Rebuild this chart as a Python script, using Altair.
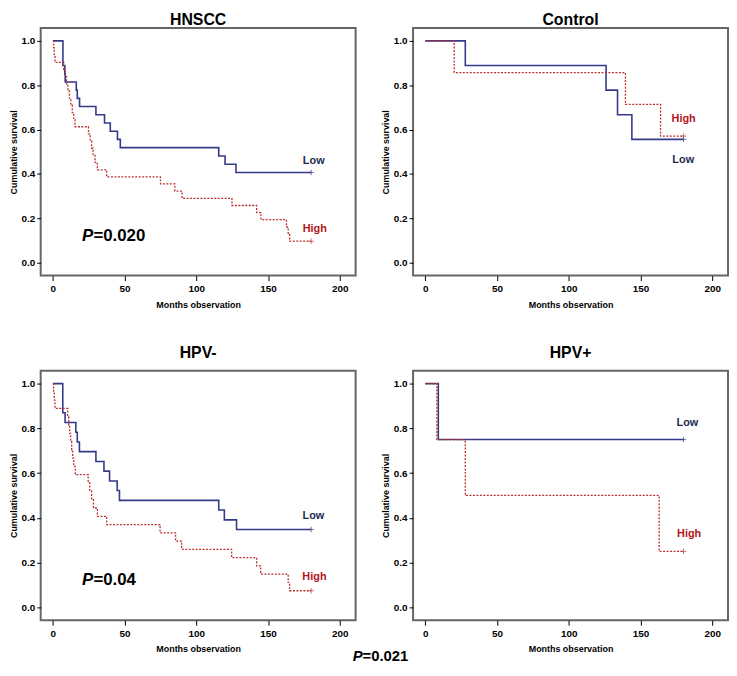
import altair as alt
import pandas as pd

# ---------------- data ----------------
hnscc_low_t = [0, 7, 8.3, 8.6, 16.3, 17, 18.6, 30, 36, 40, 45, 47, 115.6, 120, 127.6, 180]
hnscc_low_s = [1.0, 0.889, 0.852, 0.815, 0.778, 0.741, 0.704, 0.667, 0.630, 0.593, 0.556, 0.519,
               0.481, 0.444, 0.407, 0.407]
hnscc_high_t = [0, 0.5, 1, 1.5, 7.6, 8.5, 9.5, 10.5, 11.5, 12.5, 13.5, 14.5, 15.4, 24.8, 26, 27, 28,
                29.4, 31, 37.5, 75, 85, 90, 124.8, 142, 145, 162.8, 164, 165, 180]
hnscc_high_s = [1.0, 0.968, 0.935, 0.903, 0.871, 0.839, 0.806, 0.774, 0.742, 0.710, 0.677, 0.645,
                0.613, 0.581, 0.548, 0.516, 0.484, 0.452, 0.419, 0.387, 0.355, 0.323, 0.290, 0.258,
                0.226, 0.194, 0.161, 0.129, 0.097, 0.097]

control_low_t = [0, 27.9, 126, 134, 144, 180]
control_low_s = [1.0, 0.889, 0.778, 0.667, 0.556, 0.556]
control_high_t = [0, 20.2, 139.5, 164, 180]
control_high_s = [1.0, 0.857, 0.714, 0.571, 0.571]

hpvneg_low_t = [0, 6.9, 8.5, 16, 17, 18.5, 30, 35.6, 39.5, 44.8, 46.4, 115.6, 119.5, 128, 180]
hpvneg_low_s = [1.0, 0.870, 0.826, 0.783, 0.739, 0.696, 0.652, 0.609, 0.565, 0.522, 0.478, 0.435,
                0.391, 0.348, 0.348]
hpvneg_high_t = [0, 0.5, 1, 1.5, 10.3, 11, 11.7, 12.4, 13.1, 13.8, 14.5, 15.6, 24.6, 25.7, 27, 28.3,
                 31, 37.5, 74.7, 85.5, 89.7, 124.6, 142, 144.8, 164, 165, 180]
hpvneg_high_s = [1.0, 0.963, 0.926, 0.889, 0.852, 0.815, 0.778, 0.741, 0.704, 0.667, 0.630, 0.593,
                 0.556, 0.519, 0.481, 0.444, 0.407, 0.370, 0.333, 0.296, 0.259, 0.222, 0.185, 0.148,
                 0.111, 0.074, 0.074]

hpvpos_low_t = [0, 9.1, 180]
hpvpos_low_s = [1.0, 0.75, 0.75]
hpvpos_high_t = [0, 8.1, 27.9, 163, 180]
hpvpos_high_s = [1.0, 0.75, 0.5, 0.25, 0.25]

x_ticks = [0, 50, 100, 150, 200]
y_ticks = [0.0, 0.2, 0.4, 0.6, 0.8, 1.0]

BLUE = "#343a88"
RED = "#b8312f"
LOW_TXT = "#1c2a50"
HIGH_TXT = "#b3151b"
FONT = "Liberation Sans"


def panel(title, low_t, low_s, high_t, high_s, low_lab, high_lab, pval, width, height,
          title_offset, extra=None):
    low = pd.DataFrame({"t": low_t, "s": low_s})
    high = pd.DataFrame({"t": high_t, "s": high_s})
    x = alt.X("t:Q", scale=alt.Scale(domain=[-8.5, 211], nice=False, zero=False),
              axis=alt.Axis(values=x_ticks, title="Months observation", format="d"))
    y = alt.Y("s:Q", scale=alt.Scale(domain=[-0.058, 1.058], nice=False, zero=False),
              axis=alt.Axis(values=y_ticks, title="Cumulative survival", format=".1f"))

    blue = alt.Chart(low).mark_line(interpolate="step-after", color=BLUE,
                                    strokeWidth=1.6).encode(x=x, y=y)
    red = alt.Chart(high).mark_line(interpolate="step-after", color=RED, strokeWidth=1.3,
                                    strokeDash=[2, 1.5]).encode(x=x, y=y)
    plus = "M-1,0L1,0M0,-1L0,1"
    blue_c = alt.Chart(low.tail(1)).mark_point(shape=plus, size=30, filled=False, color=BLUE,
                                               strokeWidth=1).encode(x=x, y=y)
    red_c = alt.Chart(high.tail(1)).mark_point(shape=plus, size=30, filled=False, color=RED,
                                               strokeWidth=1).encode(x=x, y=y)

    lab_df = pd.DataFrame({"t": [low_lab[0], high_lab[0]], "s": [low_lab[1], high_lab[1]],
                           "txt": ["Low", "High"], "c": [LOW_TXT, HIGH_TXT]})
    labs = alt.Chart(lab_df).mark_text(font=FONT, fontWeight="bold", fontSize=11,
                                       baseline="alphabetic", align="center").encode(
        x=x, y=y, text="txt:N", color=alt.Color("c:N", scale=None))

    layers = [blue, red, blue_c, red_c, labs]
    if pval is not None:
        pdf = pd.DataFrame({"t": [20.3], "s": [0.10], "txt": ["P"], "rest": [pval]})
        p1 = alt.Chart(pdf).mark_text(font=FONT, fontWeight="bold", fontStyle="italic",
                                      fontSize=17, align="left", baseline="alphabetic",
                                      color="black").encode(x=x, y=y, text="txt:N")
        p2 = alt.Chart(pdf).mark_text(font=FONT, fontWeight="bold", fontSize=17, align="left",
                                      baseline="alphabetic", dx=11.5,
                                      color="black").encode(x=x, y=y, text="rest:N")
        layers += [p1, p2]
    if extra is not None:
        layers += extra
    return alt.layer(*layers).properties(
        width=width, height=height,
        title=alt.TitleParams(title, font=FONT, fontSize=16, fontWeight="bold",
                              color="black", offset=title_offset, anchor="middle"))


# overall p-value below the panels (placed in pixels relative to the lower-left panel)
overall = pd.DataFrame({"a": ["P"], "b": ["=0.021"]})
ov1 = alt.Chart(overall).mark_text(font=FONT, fontWeight="bold", fontStyle="italic", fontSize=15,
                                   align="left", baseline="alphabetic", color="black").encode(
    text="a:N", x=alt.value(315), y=alt.value(293))
ov2 = alt.Chart(overall).mark_text(font=FONT, fontWeight="bold", fontSize=15, align="left",
                                   baseline="alphabetic", color="black").encode(
    text="b:N", x=alt.value(325), y=alt.value(293))

p_hnscc = panel("HNSCC", hnscc_low_t, hnscc_low_s, hnscc_high_t, hnscc_high_s,
                (181.8, 0.444), (182.5, 0.137), "=0.020", 318, 250, 0)
p_control = panel("Control", control_low_t, control_low_s, control_high_t, control_high_s,
                  (179.8, 0.448), (180.1, 0.634), None, 318, 250, 0)
p_neg = panel("HPV-", hpvneg_low_t, hpvneg_low_s, hpvneg_high_t, hpvneg_high_s,
              (181.6, 0.397), (182.3, 0.124), "=0.04", 318, 252, 10, extra=[ov1, ov2])
p_pos = panel("HPV+", hpvpos_low_t, hpvpos_low_s, hpvpos_high_t, hpvpos_high_s,
              (182.7, 0.811), (183.9, 0.316), None, 318, 252, 10)

chart = alt.concat(p_hnscc, p_control, p_neg, p_pos, columns=2,
                   spacing={"row": 96, "column": 58}, bounds="flush").properties(
    padding={"left": 0, "top": 0, "right": 0, "bottom": 0}
).configure_view(
    stroke="#666666", strokeWidth=2
).configure_axis(
    grid=False, domain=False, tickColor="black", tickSize=5, tickWidth=1,
    labelFont=FONT, labelFontWeight="bold", labelFontSize=10, labelColor="black",
    labelPadding=3,
    titleFont=FONT, titleFontWeight="bold", titleFontSize=9, titleColor="black",
).configure_axisX(titlePadding=7).configure_axisY(titlePadding=3, labelPadding=2, tickSize=4)

chart.save("out.html", embed_options={"renderer": "svg", "actions": False})
